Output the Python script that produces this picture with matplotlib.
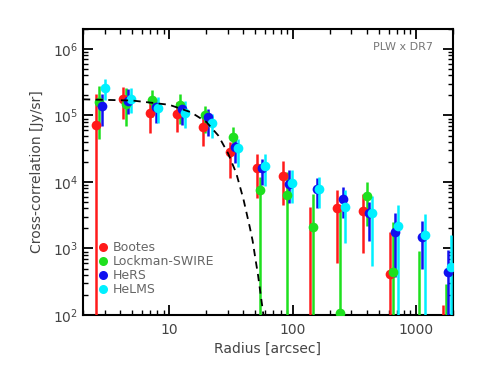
import matplotlib
matplotlib.use("Agg")
import matplotlib.pyplot as plt
from matplotlib.lines import Line2D
from matplotlib.ticker import LogLocator, LogFormatterMathtext, NullFormatter

# Radii of each field's points [arcsec]
r_bootes = [2.55, 4.22, 6.98, 11.6, 18.8, 31.1, 51.5, 83.8, 139, 230, 373, 618, 1005, 1660]
r_lockman = [2.70, 4.46, 7.26, 12.2, 19.5, 32.9, 54.5, 90.2, 147, 243, 403, 653, 1062, 1757]
r_hers = [2.85, 4.64, 7.82, 12.7, 20.6, 34.2, 56.6, 93.7, 158, 257, 418, 678, 1122, 1825]
r_helms = [3.02, 4.90, 8.11, 13.4, 22.2, 36.2, 59.9, 99.0, 164, 267, 442, 718, 1188, 1928]

# Cross-correlation values and error bar limits [Jy/sr]
v_bootes = [7.2e4, 1.78e5, 1.1e5, 1.05e5, 6.7e4, 2.8e4, 1.6e4, 1.23e4, 60, 4.1e3, 3.6e3, 415, 30, 40]
lo_bootes = [10, 8.9e4, 5.5e4, 5.6e4, 3.5e4, 1.15e4, 5.8e3, 4.5e3, 10, 600, 850, 10, 5, 10]
hi_bootes = [2.1e5, 2.7e5, 1.66e5, 1.6e5, 1.1e5, 4.0e4, 2.6e4, 2.1e4, 4.2e3, 7.6e3, 6.6e3, 1.8e3, 95, 140]

v_lockman = [1.6e5, 1.5e5, 1.7e5, 1.45e5, 1.0e5, 4.8e4, 7.6e3, 6.3e3, 2.1e3, 107, 6.2e3, 445, 50, 40]
lo_lockman = [4.5e4, 7e4, 9.6e4, 7.4e4, 5.5e4, 2.7e4, 10, 10, 10, 10, 2.2e3, 10, 10, 10]
hi_lockman = [2.8e5, 2.6e5, 2.4e5, 2.1e5, 1.4e5, 6.8e4, 1.2e4, 1.4e4, 6.7e3, 3.8e3, 1e4, 2.5e3, 910, 290]

v_hers = [1.37e5, 1.66e5, 1.35e5, 1.25e5, 9.6e4, 3.4e4, 1.6e4, 9.3e3, 7.9e3, 5.5e3, 3.4e3, 1.8e3, 1.5e3, 440]
lo_hers = [6.9e4, 1.05e5, 7.7e4, 7.2e4, 4.9e4, 1.9e4, 9e3, 4.8e3, 4e3, 2.9e3, 1.3e3, 370, 500, 10]
hi_hers = [2.1e5, 2.5e5, 1.8e5, 1.6e5, 1.25e5, 4.3e4, 2.2e4, 1.5e4, 1.15e4, 8.4e3, 5e3, 3.4e3, 2.6e3, 950]

v_helms = [2.6e5, 1.8e5, 1.3e5, 1.1e5, 7.7e4, 3.2e4, 1.75e4, 9.6e3, 7.9e3, 4.2e3, 3.4e3, 2.2e3, 1.6e3, 530]
lo_helms = [1.7e5, 1.1e5, 7.7e4, 6.5e4, 4.6e4, 1.7e4, 8.7e3, 4.8e3, 4e3, 1.2e3, 550, 10, 10, 10]
hi_helms = [3.6e5, 2.6e5, 1.9e5, 1.66e5, 1.05e5, 4.4e4, 2.6e4, 1.5e4, 1.2e4, 7.6e3, 6.2e3, 4.5e3, 3.3e3, 1.6e3]

# Beam model (dashed curve)
model_r = [2, 5, 10, 15, 20, 25, 30, 35, 40, 45, 47.5, 50, 52.5, 55, 57.5, 60]
model_v = [1.75e5, 1.68e5, 1.45e5, 1.12e5, 8.0e4, 5.0e4, 2.7e4, 1.35e4, 5.5e3,
           2.1e3, 1.3e3, 700, 400, 210, 115, 60]

fields = ["Bootes", "Lockman-SWIRE", "HeRS", "HeLMS"]
colors = ["#ff1a1a", "#1ee01e", "#1010f0", "#00f0ff"]
radii = [r_bootes, r_lockman, r_hers, r_helms]
values = [v_bootes, v_lockman, v_hers, v_helms]
lows = [lo_bootes, lo_lockman, lo_hers, lo_helms]
highs = [hi_bootes, hi_lockman, hi_hers, hi_helms]

txt = "#444444"
plt.rcParams["font.family"] = ["DejaVu Sans"]

fig = plt.figure(figsize=(4.78, 3.74), dpi=100)
ax = fig.add_axes([0.1736, 0.1578, 0.7741, 0.7647])

ax.plot(model_r, model_v, color="black", lw=1.3, ls=(0, (4, 3)), zorder=5)

for r, v, lo, hi, c in zip(radii, values, lows, highs, colors):
    yerr = [[a - b for a, b in zip(v, lo)], [b - a for a, b in zip(v, hi)]]
    ax.errorbar(r, v, yerr=yerr, fmt="o", color=c, ms=7, mew=0,
                elinewidth=1.8, capsize=3.5, capthick=1.5, zorder=3)

ax.set_xscale("log")
ax.set_yscale("log")
ax.set_xlim(2, 2000)
ax.set_ylim(1e2, 2e6)

ax.xaxis.set_major_locator(LogLocator(base=10))
ax.xaxis.set_minor_locator(LogLocator(base=10, subs=range(2, 10)))
ax.yaxis.set_major_locator(LogLocator(base=10))
ax.yaxis.set_minor_locator(LogLocator(base=10, subs=range(2, 10)))
ax.xaxis.set_major_formatter(plt.FuncFormatter(lambda x, p: "%d" % round(x)))
ax.yaxis.set_major_formatter(LogFormatterMathtext())
ax.xaxis.set_minor_formatter(NullFormatter())
ax.yaxis.set_minor_formatter(NullFormatter())

ax.tick_params(which="both", direction="in", top=True, right=True, colors="black",
               labelcolor=txt, labelsize=10)
ax.tick_params(which="major", length=7, width=1.3)
ax.tick_params(which="minor", length=3.5, width=1.0)
ax.tick_params(axis="x", which="major", pad=6)
for s in ax.spines.values():
    s.set_linewidth(1.5)

ax.set_xlabel("Radius [arcsec]", color=txt, fontsize=10, labelpad=3)
ax.set_ylabel("Cross-correlation [Jy/sr]", color=txt, fontsize=10, labelpad=6)

ax.text(0.946, 0.937, "PLW x DR7", transform=ax.transAxes, ha="right", va="center",
        color="#777777", fontsize=8)

handles = [Line2D([], [], ls="none", marker="o", ms=6.5, mew=0, color=c) for c in colors]
leg = ax.legend(handles, fields, loc="lower left", bbox_to_anchor=(0.02, 0.035),
                frameon=False, fontsize=9, handlelength=0.6, handletextpad=0.5,
                labelspacing=0.08, borderpad=0.2)
for t in leg.get_texts():
    t.set_color("#666666")

fig.savefig("out.png", dpi=100)
